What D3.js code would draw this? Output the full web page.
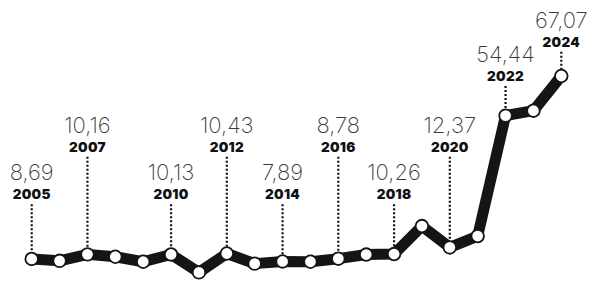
<!DOCTYPE html>
<html>
<head>
<meta charset="utf-8">
<script src="https://cdn.jsdelivr.net/npm/d3@7"></script>
<style>
  html, body { margin: 0; padding: 0; background: #fff; }
  svg { display: block; }
</style>
</head>
<body>
<svg id="chart" width="600" height="289"></svg>
<script>
// ---- data ----
const years = [2005, 2006, 2007, 2008, 2009, 2010, 2011, 2012, 2013, 2014,
               2015, 2016, 2017, 2018, 2019, 2020, 2021, 2022, 2023, 2024];
const values = [8.69, 8.1, 10.16, 9.4, 7.8, 10.13, 4.4, 10.43, 7.2, 7.89,
                7.8, 8.78, 10.1, 10.26, 19.2, 12.37, 16.0, 54.44, 56.0, 67.07];
const labeledYears = [2005, 2007, 2010, 2012, 2014, 2016, 2018, 2020, 2022, 2024];
const valueLabels = ["8,69", "10,16", "10,13", "10,43", "7,89", "8,78", "10,26", "12,37", "54,44", "67,07"];

// ---- layout ----
const W = 600, H = 289;
const svg = d3.select("#chart");
const x = d3.scaleLinear().domain([2005, 2024]).range([31.7, 561.3]);
const y = d3.scaleLinear().domain([0, 67.07]).range([286.2, 76]);

// baseline of year label per labelled year (layout only)
const lowTier = 199.3, highTier = 151.7;
const yearBaseline = {
  2005: lowTier, 2007: highTier, 2010: lowTier, 2012: highTier, 2014: lowTier,
  2016: highTier, 2018: lowTier, 2020: highTier, 2022: 81, 2024: 46.7
};

const pts = years.map((yr, i) => ({ year: yr, value: values[i] }));
const byYear = new Map(pts.map(d => [d.year, d]));

const labels = labeledYears.map((yr, i) => ({
  year: yr, text: valueLabels[i], value: byYear.get(yr).value
}));

// dotted leader lines
svg.append("g").selectAll("line").data(labels).join("line")
  .attr("x1", d => x(d.year)).attr("x2", d => x(d.year))
  .attr("y1", d => yearBaseline[d.year] + 5)
  .attr("y2", d => y(d.value) - 7)
  .attr("stroke", "#111")
  .attr("stroke-width", 2.2)
  .attr("stroke-dasharray", "2,2");

// thick line
const line = d3.line().x(d => x(d.year)).y(d => y(d.value));
svg.append("path").datum(pts)
  .attr("d", line)
  .attr("fill", "none")
  .attr("stroke", "#151515")
  .attr("stroke-width", 11)
  .attr("stroke-linejoin", "round")
  .attr("stroke-linecap", "round");

// circles
svg.append("g").selectAll("circle").data(pts).join("circle")
  .attr("cx", d => x(d.year)).attr("cy", d => y(d.value))
  .attr("r", 6.3)
  .attr("fill", "#fff")
  .attr("stroke", "#151515")
  .attr("stroke-width", 1.8);

// year labels
svg.append("g").selectAll("text").data(labels).join("text")
  .attr("x", d => x(d.year)).attr("y", d => yearBaseline[d.year])
  .attr("text-anchor", "middle")
  .attr("font-family", "Inter, 'Open Sans', sans-serif")
  .attr("font-weight", 900)
  .attr("font-size", 13.5)
  .attr("letter-spacing", 0.3)
  .attr("fill", "#111")
  .text(d => d.year);

// value labels
svg.append("g").selectAll("text").data(labels).join("text")
  .attr("x", d => x(d.year)).attr("y", d => yearBaseline[d.year] - 19)
  .attr("text-anchor", "middle")
  .attr("font-family", "Inter, 'Open Sans', sans-serif")
  .attr("font-weight", 250)
  .attr("font-size", 22)
  .attr("letter-spacing", 0)
  .attr("fill", "#3a3a3a")
  .text(d => d.text);
</script>
</body>
</html>
